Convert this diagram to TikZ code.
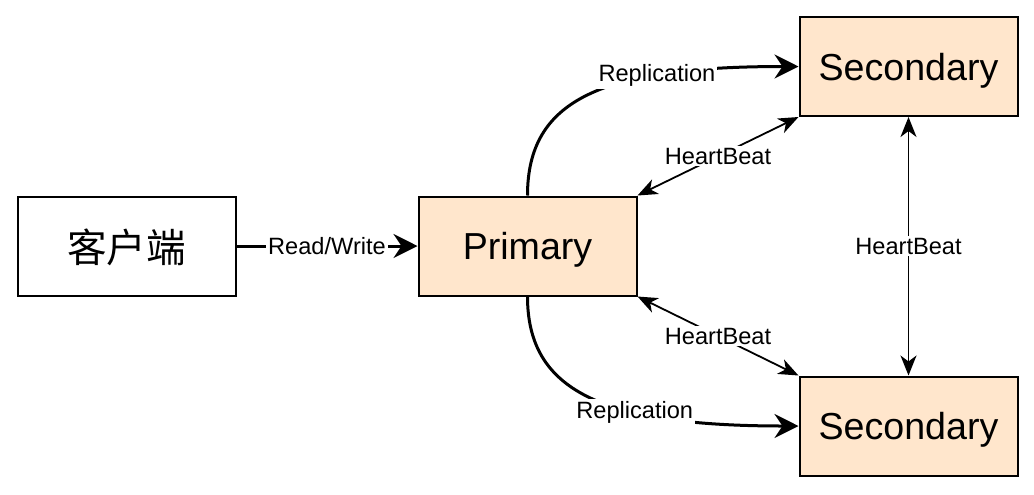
\documentclass[tikz,border=0pt]{standalone}
\usepackage{fontspec}
\setmainfont{Liberation Sans}
\newfontfamily\cjk{Noto Sans CJK SC}
\usetikzlibrary{arrows.meta,positioning}
\definecolor{peach}{HTML}{FFE6CC}

\begin{document}
\begin{tikzpicture}[font=\fontsize{11.8}{14}\selectfont,
  box/.style={draw=black,line width=1pt,align=center,minimum width=109pt,minimum height=49.5pt,inner sep=0pt,text depth=0pt,font=\fontsize{18.8}{22}\selectfont},
  rep/.style={box,fill=peach},
  a/.style={-{Stealth[length=12pt,width=12pt,inset=4pt]},line width=1.5pt},
  hb/.style={{Stealth[length=10pt,width=8pt,inset=3pt]}-{Stealth[length=10pt,width=8pt,inset=3pt]},line width=0.9pt},
  lbl/.style={fill=white,inner sep=1pt}]
  \useasboundingbox (0,0) rectangle (517pt,-247pt);
  \node[box](cl) at (63.25pt,-123pt){\cjk\fontsize{19.8}{22}\selectfont 客户端};
  \node[rep,right=90.5pt of cl](pr){Primary};
  \node[rep,right=80.5pt of pr,yshift=89.75pt](s1){Secondary};
  \node[rep,right=80.5pt of pr,yshift=-90pt](s2){Secondary};
  % client request into the primary
  \draw[a](cl)--node[lbl]{Read/Write}(pr);
  % replication curves leave primary top/bottom and enter the secondaries from the left
  \draw[a](pr.north) .. controls +(0,48pt) and +(-98.5pt,0) .. node[lbl,pos=0.71]{Replication}(s1.west);
  \draw[a](pr.south) .. controls +(0,-47pt) and +(-98.5pt,0) .. node[lbl,pos=0.65]{Replication}(s2.west);
  % heartbeats between corners
  \draw[hb](pr.north east)--node[lbl]{HeartBeat}(s1.south west);
  \draw[hb](pr.south east)--node[lbl]{HeartBeat}(s2.north west);
  \draw[hb](s1)--node[lbl]{HeartBeat}(s2);
\end{tikzpicture}
\end{document}
